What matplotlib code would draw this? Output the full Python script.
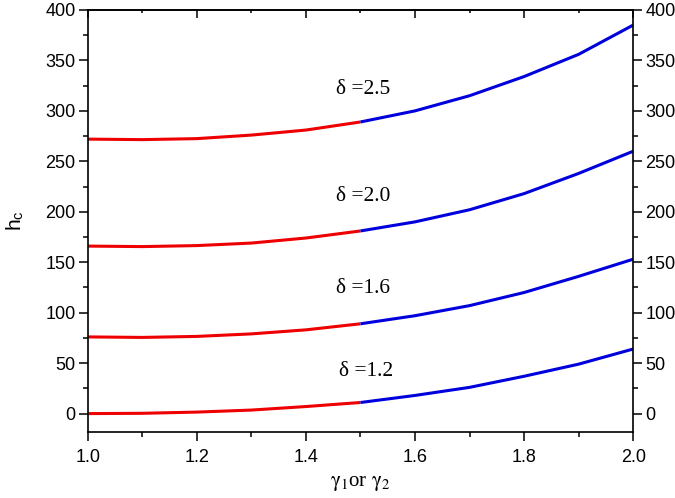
import matplotlib
matplotlib.use("Agg")
import matplotlib.pyplot as plt
from matplotlib.ticker import MultipleLocator

# gamma values (x) and critical h for each delta
gamma = [1.0, 1.1, 1.2, 1.3, 1.4, 1.5, 1.6, 1.7, 1.8, 1.9, 2.0]
h_d25 = [272, 271.5, 272.5, 276, 281, 289, 300, 315, 334, 356, 385]
h_d20 = [166, 165.5, 166.5, 169, 174, 181, 190, 202, 218, 238, 260]
h_d16 = [76, 75.5, 76.5, 79, 83, 89, 97, 107, 120, 136, 153]
h_d12 = [0, 0.3, 1.5, 3.5, 7, 11, 18, 26, 37, 49, 64]
deltas = ["2.5", "2.0", "1.6", "1.2"]
label_pos = [(1.455, 321), (1.455, 215), (1.455, 124), (1.46, 42)]
split = 5  # index of gamma = 1.5

plt.rcParams['font.family'] = ['Liberation Sans', 'DejaVu Sans']
plt.rcParams['mathtext.fontset'] = 'stix'

fig = plt.figure(figsize=(6.75, 4.98), dpi=100)
ax = fig.add_axes([0.130, 0.133, 0.808, 0.847])

for h in [h_d25, h_d20, h_d16, h_d12]:
    ax.plot(gamma[:split + 1], h[:split + 1], color='#ee0000', lw=2.2, solid_capstyle='butt')
    ax.plot(gamma[split:], h[split:], color='#0000dd', lw=2.2, solid_capstyle='butt')

for d, (px, py) in zip(deltas, label_pos):
    ax.text(px, py, "\u03b4 =" + d, family=['Liberation Serif', 'DejaVu Serif'],
            fontsize=15.5, va='center', ha='left')

ax.set_xlim(1.0, 2.0)
ax.set_ylim(-18, 400)
ax.xaxis.set_major_locator(MultipleLocator(0.2))
ax.xaxis.set_minor_locator(MultipleLocator(0.1))
ax.yaxis.set_major_locator(MultipleLocator(50))
ax.yaxis.set_minor_locator(MultipleLocator(25))
ax.xaxis.set_major_formatter(matplotlib.ticker.FormatStrFormatter('%.1f'))

ax.tick_params(axis='both', which='major', direction='out', length=6.3, width=1.1, labelsize=13)
ax.tick_params(axis='both', which='minor', direction='out', length=3.6, width=1.1)
ax.tick_params(axis='x', which='major', pad=6)
ax.tick_params(axis='y', which='major', pad=2.5)
ax.tick_params(axis='y', which='both', right=True, labelright=True)

top = ax.secondary_xaxis('top')
top.xaxis.set_major_locator(MultipleLocator(0.2))
top.xaxis.set_minor_locator(MultipleLocator(0.1))
top.tick_params(which='major', direction='in', length=5.5, width=1.1, labeltop=False)
top.tick_params(which='minor', direction='in', length=2.5, width=1.1)
top.spines['top'].set_linewidth(1.2)

for s in ax.spines.values():
    s.set_linewidth(1.2)

ax.set_xlabel(r'$\mathrm{\gamma_1}$or $\mathrm{\gamma_2}$', family=['Liberation Serif'],
              fontsize=15, labelpad=6)
ax.set_ylabel(r'h$_\mathregular{c}$', fontsize=15, labelpad=14)

fig.savefig("out.png", dpi=100)
